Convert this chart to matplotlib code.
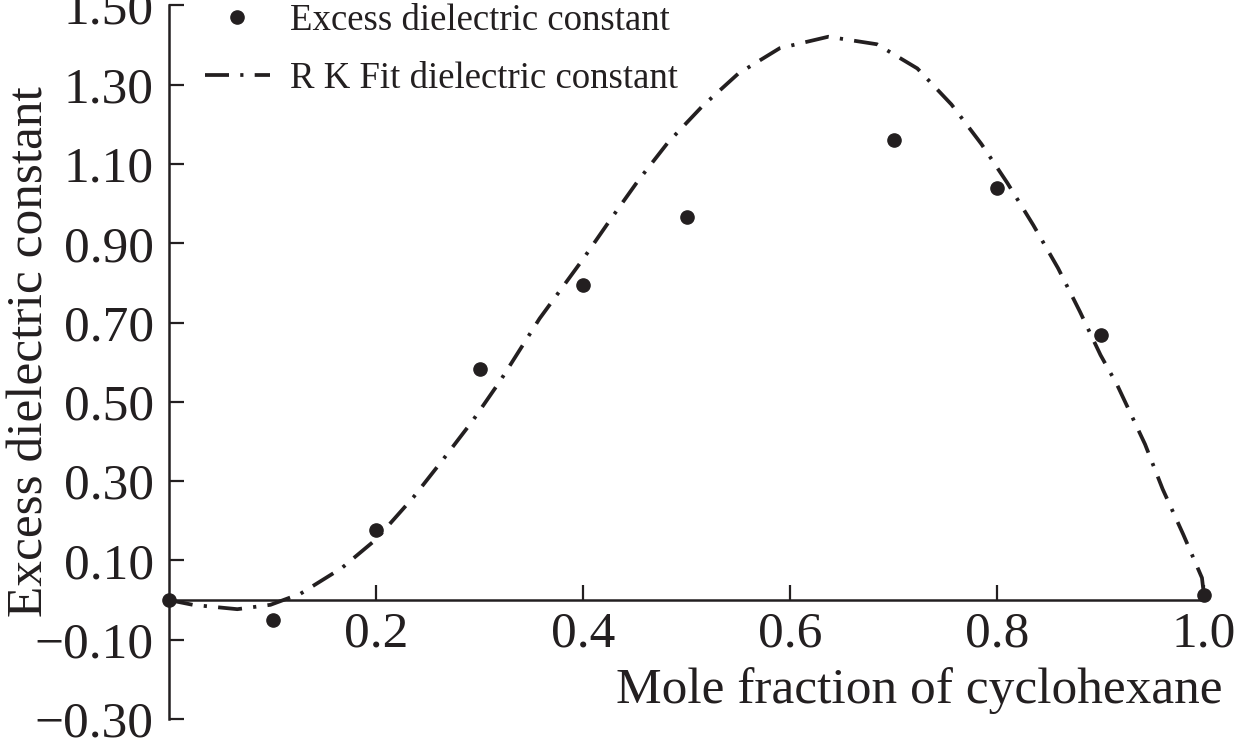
import matplotlib
matplotlib.use("Agg")
import matplotlib.pyplot as plt

# measured points (excess dielectric constant)
mole_frac = [0.0, 0.1, 0.2, 0.3, 0.4, 0.5, 0.7, 0.8, 0.9, 1.0]
excess_eps = [0.0, -0.05, 0.178, 0.583, 0.794, 0.967, 1.161, 1.04, 0.669, 0.013]

# Redlich-Kister fit curve
fit_x = [0.0, 0.023, 0.066, 0.098, 0.127, 0.167, 0.2, 0.236, 0.264, 0.293,
         0.32, 0.358, 0.4, 0.426, 0.453, 0.482, 0.515, 0.55, 0.59, 0.637,
         0.684, 0.723, 0.756, 0.785, 0.81, 0.835, 0.859, 0.88, 0.9, 0.916,
         0.943, 0.96, 0.98, 0.998, 1.0]
fit_y = [0.0, -0.012, -0.023, -0.012, 0.016, 0.081, 0.153, 0.259, 0.352, 0.451,
         0.553, 0.71, 0.86, 0.958, 1.057, 1.154, 1.245, 1.328, 1.392, 1.421,
         1.402, 1.341, 1.25, 1.15, 1.052, 0.946, 0.837, 0.728, 0.618, 0.543,
         0.393, 0.28, 0.165, 0.056, 0.01]

x_ticks = [0.2, 0.4, 0.6, 0.8, 1.0]
x_ticklabels = ["0.2", "0.4", "0.6", "0.8", "1.0"]
y_ticks = [-0.30, -0.10, 0.10, 0.30, 0.50, 0.70, 0.90, 1.10, 1.30, 1.50]
y_ticklabels = ["\u22120.30", "\u22120.10", "0.10", "0.30", "0.50", "0.70",
                "0.90", "1.10", "1.30", "1.50"]

ink = "#231f20"
plt.rcParams["font.family"] = ["Liberation Serif", "DejaVu Serif"]

fig = plt.figure(figsize=(12.4, 7.42), dpi=100)
ax = fig.add_axes([0.1363, 0.031, 0.8347, 0.9617])

ax.plot(fit_x, fit_y, color=ink, lw=2.7, linestyle=(0, (6.4, 3.0, 0.85, 3.0)),
        dash_capstyle="butt", clip_on=False, label="R K Fit dielectric constant")
ax.plot(mole_frac, excess_eps, "o", color=ink, ms=9.5, clip_on=False,
        label="Excess dielectric constant")

ax.set_xlim(0, 1.0)
ax.set_ylim(-0.30, 1.50)

for s in ["top", "right"]:
    ax.spines[s].set_visible(False)
ax.spines["bottom"].set_position(("data", 0))
for s in ["left", "bottom"]:
    ax.spines[s].set_linewidth(1.8)
    ax.spines[s].set_color(ink)

ax.set_xticks(x_ticks)
ax.set_xticklabels(x_ticklabels)
ax.set_yticks(y_ticks)
ax.set_yticklabels(y_ticklabels)
ax.tick_params(direction="in", length=11, width=1.6, color=ink,
               labelsize=37, labelcolor=ink)
ax.tick_params(axis="x", pad=8)
ax.tick_params(axis="y", pad=11)

fig.text(30 / 1240, 0.526, "Excess dielectric constant", fontsize=37,
         color=ink, rotation=90, ha="center", va="center")
fig.text(1222 / 1240, 39 / 742, "Mole fraction of cyclohexane",
         fontsize=37, color=ink, ha="right", va="baseline")

handles, labels = ax.get_legend_handles_labels()
leg = ax.legend(handles[::-1], labels[::-1], loc="upper left",
                bbox_to_anchor=(0.0203, 1.023), borderaxespad=0, frameon=False,
                fontsize=26.5, handlelength=1.77, handletextpad=0.54,
                labelspacing=0.62, numpoints=1)
for t in leg.get_texts():
    t.set_color(ink)

fig.savefig("out.png", dpi=100)
